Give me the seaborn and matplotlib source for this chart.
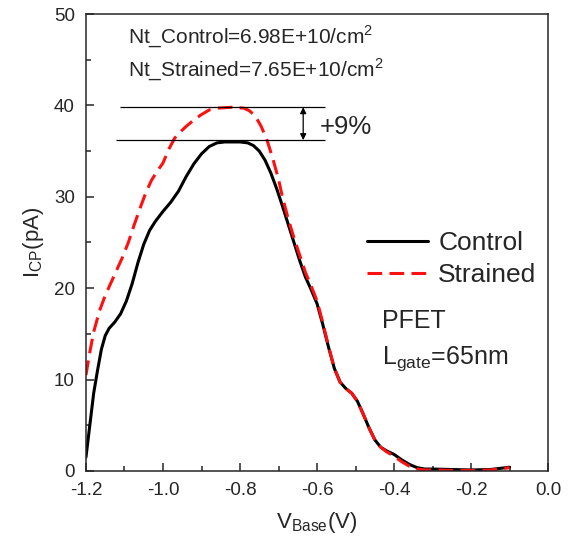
"""Charge pumping current: Control vs Strained PFET"""

import matplotlib
matplotlib.use("Agg")
import matplotlib.pyplot as plt
import pandas as pd
import seaborn as sns

# V_Base (V) and I_CP (pA)
control_v = [-1.200, -1.190, -1.180, -1.170, -1.160, -1.150, -1.140, -1.125, -1.110, -1.095,
             -1.080, -1.065, -1.050, -1.035, -1.020, -1.000, -0.980, -0.960, -0.940, -0.920,
             -0.900, -0.880, -0.860, -0.840, -0.800, -0.780, -0.765, -0.750, -0.735, -0.720,
             -0.705, -0.690, -0.675, -0.660, -0.645, -0.630, -0.615, -0.600, -0.585, -0.570,
             -0.555, -0.540, -0.525, -0.510, -0.495, -0.480, -0.465, -0.450, -0.435, -0.420,
             -0.400, -0.380, -0.360, -0.340, -0.320, -0.300, -0.250, -0.200, -0.150, -0.120,
             -0.100]
control_i = [1.5, 5.0, 8.5, 11.0, 13.3, 14.8, 15.6, 16.3, 17.2, 18.6,
             20.5, 22.8, 24.8, 26.3, 27.3, 28.4, 29.4, 30.6, 32.2, 33.6,
             34.7, 35.5, 35.9, 36.0, 36.0, 35.9, 35.6, 35.0, 34.0, 32.6,
             30.9, 29.0, 27.0, 25.0, 23.0, 21.2, 19.8, 18.3, 16.0, 13.5,
             11.2, 9.7, 9.0, 8.5, 7.6, 6.2, 4.7, 3.4, 2.6, 2.2,
             1.8, 1.2, 0.7, 0.35, 0.2, 0.2, 0.15, 0.1, 0.15, 0.3,
             0.4]

strained_v = [-1.200, -1.190, -1.180, -1.165, -1.150, -1.135, -1.120, -1.105, -1.090, -1.075,
              -1.060, -1.045, -1.030, -1.015, -1.000, -0.985, -0.970, -0.955, -0.940, -0.920,
              -0.900, -0.880, -0.860, -0.820, -0.790, -0.775, -0.760, -0.745, -0.730, -0.715,
              -0.700, -0.690, -0.675, -0.660, -0.645, -0.630, -0.615, -0.600, -0.585, -0.570,
              -0.555, -0.540, -0.525, -0.510, -0.495, -0.480, -0.465, -0.450, -0.435, -0.420,
              -0.400, -0.380, -0.360, -0.340, -0.320, -0.300, -0.250, -0.200, -0.150, -0.120,
              -0.100]
strained_i = [10.5, 13.0, 15.2, 17.5, 19.2, 20.6, 22.0, 23.4, 25.0, 26.9,
              28.7, 30.4, 31.8, 32.8, 33.7, 35.2, 36.4, 37.1, 37.7, 38.4,
              39.0, 39.5, 39.7, 39.8, 39.7, 39.4, 38.8, 37.7, 36.2, 34.2,
              31.9, 30.0, 27.6, 25.5, 23.6, 21.7, 20.2, 18.6, 16.2, 13.6,
              11.2, 9.7, 9.0, 8.5, 7.6, 6.2, 4.7, 3.4, 2.6, 2.1,
              1.6, 1.0, 0.5, 0.2, 0.1, 0.1, 0.05, 0.05, 0.1, 0.25,
              0.35]

peak_levels = [39.8, 36.2]
x_ticks = [-1.2, -1.0, -0.8, -0.6, -0.4, -0.2, 0.0]
y_ticks = [0, 10, 20, 30, 40, 50]

sns.set_style("ticks")
plt.rcParams["font.family"] = ["Liberation Sans", "DejaVu Sans"]
plt.rcParams["mathtext.fontset"] = "custom"
plt.rcParams["mathtext.rm"] = "Liberation Sans"
plt.rcParams["axes.unicode_minus"] = False

fig = plt.figure(figsize=(5.77, 5.4), dpi=100)
ax = fig.add_axes([0.149, 0.128, 0.801, 0.846])

df_c = pd.DataFrame({"v": control_v, "i": control_i})
df_s = pd.DataFrame({"v": strained_v, "i": strained_i})
sns.lineplot(data=df_c, x="v", y="i", ax=ax, color="black", lw=2.2, label="Control")
sns.lineplot(data=df_s, x="v", y="i", ax=ax, color="#ff1010", lw=2.2,
             linestyle=(0, (4.8, 2.4)), label="Strained")

# peak reference lines and +9% arrow
ax.hlines(peak_levels[0], -1.112, -0.579, color="black", lw=0.9)
ax.hlines(peak_levels[1], -1.122, -0.579, color="black", lw=0.9)
ax.annotate("", xy=(-0.636, peak_levels[0]), xytext=(-0.636, peak_levels[1]),
            arrowprops=dict(arrowstyle="<|-|>", color="black", lw=0.9,
                            mutation_scale=9, shrinkA=0, shrinkB=0))
ax.text(-0.594, 37.6, "+9%", fontsize=18.5, va="center", ha="left")

ax.text(-1.091, 47.5, r"Nt_Control=6.98E+10/cm$^\mathregular{2}$", fontsize=15, va="center")
ax.text(-1.091, 43.9, r"Nt_Strained=7.65E+10/cm$^\mathregular{2}$", fontsize=15, va="center")
ax.text(-0.431, 16.4, "PFET", fontsize=18, va="center")
ax.text(-0.431, 12.3, r"L$_\mathregular{gate}$=65nm", fontsize=18, va="center")

ax.set_xlim(-1.2, 0.0)
ax.set_ylim(0, 50)
ax.set_xticks(x_ticks)
ax.set_xticklabels([f"{t:.1f}" for t in x_ticks])
ax.set_yticks(y_ticks)
ax.set_xticks([-1.1, -0.9, -0.7, -0.5, -0.3, -0.1], minor=True)
ax.set_yticks([5, 15, 25, 35, 45], minor=True)
ax.tick_params(which="both", direction="in", labelsize=13.5, width=1.1, top=False, right=False)
ax.tick_params(which="major", length=6, pad=8)
ax.tick_params(which="minor", length=3.5)
for sp in ax.spines.values():
    sp.set_linewidth(1.1)
    sp.set_visible(True)

ax.set_xlabel(r"V$_\mathregular{Base}$(V)", fontsize=16, labelpad=8)
ax.set_ylabel(r"I$_\mathregular{CP}$(pA)", fontsize=16, labelpad=6)

ax.legend(loc="upper left", bbox_to_anchor=(0.608, 0.525), frameon=False, fontsize=19,
          handlelength=2.3, handletextpad=0.4, labelspacing=0.3, borderpad=0,
          borderaxespad=0)

fig.savefig("out.png", dpi=100)
